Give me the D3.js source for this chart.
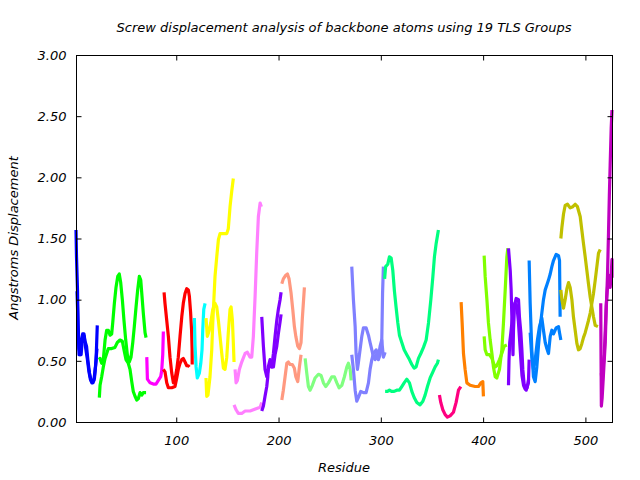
<!DOCTYPE html>
<html><head><meta charset="utf-8">
<script src="https://cdn.jsdelivr.net/npm/d3@7/dist/d3.min.js"></script>
<style>
body{margin:0;background:#fff;}
text{font-family:"DejaVu Sans",sans-serif;font-style:italic;}
</style></head>
<body><svg id="chart" width="640" height="480"></svg>
<script>
const titleText = "Screw displacement analysis of backbone atoms using 19 TLS Groups";
const xLabel = "Residue";
const yLabel = "Angstroms Displacement";
const xTicks = [100, 200, 300, 400, 500];
const yTicks = [0, 0.5, 1, 1.5, 2, 2.5, 3];
const xDomain = [2, 526];
const yDomain = [0, 3];
const groupColors = ["#0000ff","#00ff00","#ff00ff","#ff0000","#00ffff","#ffff00","#ff80ff","#8000ff","#ff9980","#80ff80","#8080ff","#00ff80","#ff0080","#ff8000","#80ff00","#8000ff","#0080ff","#c0c000","#c000c0"];

// [residue, displacement] pairs per TLS group (two traces per group where visible)
const g01a = [[2,1.57],[2.5,1.35],[3.5,1.07],[4,0.77],[5,0.55],[6,0.62],[7,0.55],[8.4,0.70],[9.8,0.72],[10.8,0.66],[12.3,0.62],[13.7,0.50],[15.2,0.40],[16.7,0.34],[18.6,0.32],[20.1,0.36],[21.6,0.50],[22.8,0.79]];
const g01b = [[3,1.07],[4,0.80],[5,0.60],[6,0.55],[7,0.65],[8.5,0.72],[10,0.70],[11.5,0.60],[13,0.52],[14.5,0.42],[16,0.35],[17.5,0.32],[19.5,0.34],[21,0.45],[22.5,0.60]];
const g02a = [[24.8,0.51],[25.5,0.52],[27.1,0.48],[28.7,0.51],[30.4,0.67],[32,0.75],[33.6,0.75],[35.3,0.71],[36.9,0.72],[37.9,0.81],[39.5,0.97],[41.1,1.10],[42.8,1.19],[44.3,1.21],[45.7,1.14],[47.3,1.00],[48.9,0.83],[50.6,0.67],[52.2,0.55],[54.1,0.49],[55.8,0.53],[57.5,0.65],[59,0.78],[60.7,0.94],[62.3,1.08],[63.9,1.19],[65.3,1.16],[66.5,1.03],[67.8,0.89],[69.5,0.73],[70.5,0.69]];
const g02b = [[24.8,0.20],[25.5,0.30],[27.1,0.37],[28.7,0.45],[30.4,0.52],[32,0.56],[33.6,0.60],[36.9,0.60],[40.1,0.61],[42.4,0.65],[45,0.67],[47.3,0.66],[48.9,0.59],[50.9,0.51],[53.1,0.48],[54.8,0.43],[56.5,0.33],[58,0.25],[59.7,0.21],[61.4,0.18],[62.9,0.19],[64.6,0.24],[66.3,0.22],[67.8,0.24],[70.5,0.24]];
const g03a = [[71.2,0.53],[71.8,0.35],[74.4,0.32],[77.6,0.31],[80.2,0.31],[82.5,0.34],[84.8,0.37],[85.8,0.42],[86.8,0.55],[87.4,0.74]];
const g04a = [[88.1,1.06],[89,0.97],[90.7,0.83],[92.3,0.70],[93.9,0.53],[95.6,0.40],[97.2,0.32],[98.8,0.35],[100.5,0.43],[102,0.53],[103.7,0.70],[105.4,0.86],[106.9,0.97],[108.6,1.05],[110.3,1.09],[111.8,1.08],[112.8,1.03],[114,0.90],[115,0.75],[115.5,0.60],[115.6,0.47]];
const g04b = [[87.4,0.43],[89,0.41],[90.7,0.32],[92.3,0.28],[95.6,0.28],[98.8,0.29],[100.5,0.36],[102,0.43],[103.7,0.48],[105.4,0.51],[106.9,0.52],[108.6,0.49],[110.3,0.46],[111.8,0.46],[112.8,0.45]];
const g05a = [[117.7,0.85],[118.4,0.62],[119.4,0.45],[120.6,0.36],[122.6,0.40],[124,0.48],[125.2,0.59],[125.9,0.75],[126.9,0.92],[128.2,0.97]];
const g06a = [[129.1,0.36],[129.8,0.21],[131,0.22],[133,0.37],[134.7,0.59],[135.7,0.81],[136.9,1.02],[137.9,1.19],[139.6,1.35],[141.2,1.49],[142.8,1.54],[146.1,1.54],[149.4,1.54],[150.9,1.58],[152.6,1.76],[154.3,1.89],[155.8,1.99]];
const g06b = [[129.1,0.85],[130.4,0.70],[132.3,0.75],[133.7,0.81],[135.7,0.92],[137.9,0.97],[139.6,0.94],[141.2,0.83],[142.8,0.70],[144.5,0.56],[146.1,0.44],[147.7,0.43],[149.4,0.53],[150.9,0.73],[152.6,0.92],[153.6,0.94],[154.9,0.83],[155.8,0.65],[156.5,0.49]];
const g07a = [[157.5,0.43],[158.5,0.32],[159.8,0.34],[161.7,0.43],[164,0.49],[167.3,0.56],[169.5,0.57],[172.2,0.53],[173.8,0.53],[175.4,0.70],[177.1,1.03],[178.7,1.39],[180.3,1.68],[182,1.79],[183.2,1.76]];
const g07b = [[156.5,0.14],[158.5,0.10],[160.7,0.07],[164,0.07],[167.3,0.09],[172.2,0.09],[178.7,0.11],[182,0.12],[183.6,0.16]];
const g08a = [[183.6,0.86],[185.2,0.62],[186.8,0.43],[188.5,0.37],[190,0.43],[191.7,0.48],[193.4,0.45],[195,0.56],[196.6,0.70],[198.3,0.83],[199.8,0.92],[201.5,1.00],[202.5,1.06]];
const g08b = [[183.6,0.09],[185.2,0.13],[186.8,0.21],[188.5,0.29],[189.5,0.37],[190,0.45],[191.7,0.51],[193.4,0.45],[195,0.45],[196.6,0.55],[198.3,0.62],[199.8,0.72],[201.5,0.82],[202.5,0.88]];
const g09a = [[203.2,1.13],[204.7,1.17],[207.1,1.20],[208.7,1.21],[210.3,1.17],[212.3,1.05],[213.9,0.92],[215.5,0.78],[216.9,0.70],[218.8,0.62],[220.4,0.60],[222,0.65],[223.3,0.85],[224.5,1.00],[225.3,1.10]];
const g09b = [[203.2,0.18],[204.7,0.26],[206.4,0.37],[208.1,0.48],[209.6,0.49],[211.3,0.47],[213.5,0.47],[215.5,0.44],[216.9,0.37],[218.8,0.33],[220.4,0.45],[222,0.55]];
const g10a = [[226,0.52],[227.6,0.40],[229.2,0.29],[230.9,0.26],[233.1,0.30],[235.7,0.36],[239,0.39],[241.6,0.38],[243.9,0.32],[246.2,0.29],[248.8,0.32],[252.1,0.37],[254.6,0.37],[257,0.32],[259.2,0.28],[261.9,0.30],[264.4,0.37],[266.8,0.45],[268.3,0.48],[270,0.43],[271,0.34]];
const g11a = [[271.6,1.27],[273.2,1.00],[274.9,0.78],[275.8,0.56],[277.1,0.43],[278,0.48],[279.7,0.59],[281.4,0.70],[283,0.77],[285.6,0.77],[287.9,0.71],[289.5,0.65],[291.2,0.59],[292.8,0.53],[294.4,0.51],[296.1,0.56],[297.6,0.51],[299.3,0.55],[300.9,0.65],[301.7,1.05],[302.5,1.27]];
const g11b = [[271.6,0.55],[273.2,0.43],[274.9,0.26],[276.5,0.17],[278,0.20],[280.4,0.25],[283,0.24],[285.6,0.24],[287.9,0.32],[289.5,0.43],[291.2,0.51],[292.8,0.56],[295.4,0.59],[297.6,0.53],[299.3,0.62],[300.9,0.67],[302.5,0.53],[304.2,0.57]];
const g12a = [[303.7,1.17],[304.7,1.27],[306.8,1.29],[308.4,1.35],[310.1,1.34],[311.7,1.24],[313.3,1.07],[314.9,0.94],[316.6,0.81],[318.2,0.71],[320.5,0.65],[322.8,0.59],[325.4,0.55],[328,0.51],[330.3,0.47],[332.6,0.44],[334.5,0.45],[336.8,0.52],[339.1,0.56],[341.7,0.61],[344.3,0.67],[346.6,0.81],[348.9,1.00],[350.9,1.19],[352.4,1.35],[354.1,1.46],[356.3,1.57]];
const g12b = [[304.2,0.25],[306.5,0.25],[308.4,0.26],[310.5,0.25],[313,0.25],[315.6,0.26],[318.2,0.26],[320.5,0.29],[322.8,0.32],[325.4,0.35],[328,0.32],[330.3,0.25],[332.6,0.20],[335.2,0.16],[338.4,0.14],[341.1,0.17],[343.3,0.22],[345.6,0.29],[348.2,0.36],[350.9,0.41],[353.1,0.45],[355.3,0.48],[356.3,0.51]];
const g13a = [[357.3,0.22],[358.6,0.16],[360.6,0.10],[362.9,0.06],[365.1,0.04],[367.7,0.05],[371,0.08],[373.6,0.16],[375.9,0.26],[378.2,0.29]];
const g14a = [[378.5,0.98],[379.5,0.81],[380.8,0.56],[382.4,0.43],[384.1,0.32],[387.3,0.30],[392.2,0.29],[395.4,0.29],[397.8,0.32],[399.7,0.33],[400.3,0.21]];
const g15a = [[401,1.36],[402,1.19],[403.7,1.00],[405.2,0.81],[406.9,0.67],[408.6,0.56],[410.1,0.45],[411.8,0.37],[413.4,0.36],[416,0.43],[418.3,0.59],[419.9,0.81],[421.6,1.08],[423.2,1.35],[424.2,1.42]];
const g15b = [[401,0.70],[402,0.59],[403.7,0.55],[406.2,0.55],[408.6,0.52],[410.1,0.48],[411.8,0.45],[413.4,0.46],[416,0.51],[418.3,0.56],[420.6,0.62],[423.2,0.63]];
const g16a = [[424.8,1.42],[426.5,1.24],[427.4,1.08],[428.1,0.86],[428.7,0.67],[429.2,0.55],[429.7,0.75],[430.7,0.95],[432.3,1.01],[434.6,1.00],[435.5,0.86],[436.9,0.73],[437.9,0.59],[438.8,0.43],[440.1,0.31],[442.1,0.26],[444.3,0.32],[445,0.51]];
const g16b = [[424.8,0.30],[425.3,0.50],[426,0.65],[427,0.72],[428,0.80],[429.5,0.92],[431,0.97],[433,0.95],[434.5,0.82],[435.8,0.65],[437,0.50],[438,0.38],[439.5,0.30],[441,0.27],[443,0.28],[444.5,0.35]];
const g17a = [[445,1.32],[446,0.97],[447.6,0.59],[449.2,0.37],[450.9,0.33],[452.5,0.45],[454.1,0.62],[455.8,0.78],[457.4,0.89],[459,1.00],[460.7,1.08],[462.3,1.12],[463.9,1.16],[465.6,1.21],[467.2,1.27],[468.8,1.32],[471.4,1.37],[473.7,1.36],[474.7,1.32],[475.3,0.86]];
const g17b = [[446,0.73],[447.6,0.53],[449.2,0.43],[450.9,0.51],[453.1,0.67],[455.1,0.78],[457.4,0.85],[459,0.75],[460.7,0.65],[462.3,0.60],[463.9,0.56],[465.6,0.70],[467.2,0.75],[468.8,0.72],[471.4,0.77],[473.7,0.78],[474.7,0.73],[476,0.67]];
const g18a = [[476,1.50],[477,1.59],[478.6,1.70],[480.2,1.77],[482.5,1.78],[485.1,1.75],[487.7,1.76],[490,1.78],[492.2,1.76],[494.9,1.68],[496.5,1.57],[498.1,1.46],[499.8,1.35],[501.4,1.24],[503,1.13],[504.7,1.02],[506.3,0.94],[507.9,0.86],[509.6,0.79],[512.2,0.78]];
const g18b = [[476,1.08],[477,1.00],[478.6,0.93],[480.2,1.00],[481.9,1.09],[483.5,1.14],[485.1,1.10],[486.8,1.00],[488.3,0.86],[490,0.75],[491.7,0.64],[493.2,0.59],[494.9,0.60],[496.5,0.64],[498.1,0.69],[499.8,0.73],[501.4,0.78],[503,0.83],[504.7,0.89],[506.3,0.97],[507.9,1.05],[509.6,1.16],[511.2,1.27],[512.8,1.38],[514.5,1.41]];
const g19a = [[515,0.97],[515.3,0.50],[515.6,0.13],[516.4,0.20],[517.4,0.35],[518.4,0.50],[519.4,0.65],[520.3,0.90],[521.6,1.20],[522.6,1.55],[523.4,1.85],[524.2,2.10],[525.2,2.40],[526,2.55]];
const g19b = [[515.6,0.40],[516.4,0.30],[517.4,0.45],[518.4,0.55],[519.4,0.75],[520.3,0.95],[521.6,1.10],[522.6,1.20],[524.2,1.10],[525.2,1.20],[526,1.33],[526,1.18]];

const groups = [[g01a,g01b],[g02a,g02b],[g03a],[g04a,g04b],[g05a],[g06a,g06b],[g07a,g07b],[g08a,g08b],[g09a,g09b],[g10a],[g11a,g11b],[g12a,g12b],[g13a],[g14a],[g15a,g15b],[g16a,g16b],[g17a,g17b],[g18a,g18b],[g19a,g19b]];

const L = 76, R = 612, T = 55, B = 422;
const svg = d3.select("#chart");
const x = d3.scaleLinear().domain(xDomain).range([L, R]);
const y = d3.scaleLinear().domain(yDomain).range([B, T]);

const line = d3.line().x(d => x(d[0])).y(d => y(d[1]));
const plot = svg.append("g");
groups.forEach((g, i) => {
  g.forEach(s => {
    plot.append("path").attr("d", line(s)).attr("fill", "none")
      .attr("stroke", groupColors[i]).attr("stroke-width", 3.2)
      .attr("stroke-linejoin", "round").attr("stroke-linecap", "butt");
  });
});

const fs = 13;
// axes (inward ticks, mirrored)
const ax = svg.append("g").attr("transform", `translate(0,${B + 0.5})`)
  .call(d3.axisBottom(x).tickValues(xTicks).tickSizeInner(-5).tickSizeOuter(0).tickPadding(13).tickFormat(d3.format("d")));
const axT = svg.append("g").attr("transform", `translate(0,${T + 0.5})`)
  .call(d3.axisTop(x).tickValues(xTicks).tickSizeInner(-5).tickSizeOuter(0).tickFormat(""));
const ay = svg.append("g").attr("transform", `translate(${L + 0.5},0)`)
  .call(d3.axisLeft(y).tickValues(yTicks).tickSizeInner(-5).tickSizeOuter(0).tickPadding(10).tickFormat(d3.format(".2f")));
const ayR = svg.append("g").attr("transform", `translate(${R + 0.5},0)`)
  .call(d3.axisRight(y).tickValues(yTicks).tickSizeInner(-5).tickSizeOuter(0).tickFormat(""));
[ax, axT, ay, ayR].forEach(a => {
  a.select(".domain").remove();
  a.selectAll("line").attr("stroke", "#000");
  a.selectAll("text").attr("font-size", fs).attr("font-family", "DejaVu Sans").attr("font-style", "italic").attr("fill", "#000");
});

svg.append("rect").attr("x", L + 0.5).attr("y", T + 0.5).attr("width", R - L).attr("height", B - T)
  .attr("fill", "none").attr("stroke", "#000").attr("stroke-width", 1);

svg.append("text").attr("x", 344).attr("y", 32).attr("text-anchor", "middle").attr("font-size", fs).text(titleText);
svg.append("text").attr("x", 344).attr("y", 472).attr("text-anchor", "middle").attr("font-size", fs).text(xLabel);
svg.append("text").attr("transform", "translate(18,238) rotate(-90)").attr("text-anchor", "middle").attr("font-size", fs).text(yLabel);
</script></body></html>
